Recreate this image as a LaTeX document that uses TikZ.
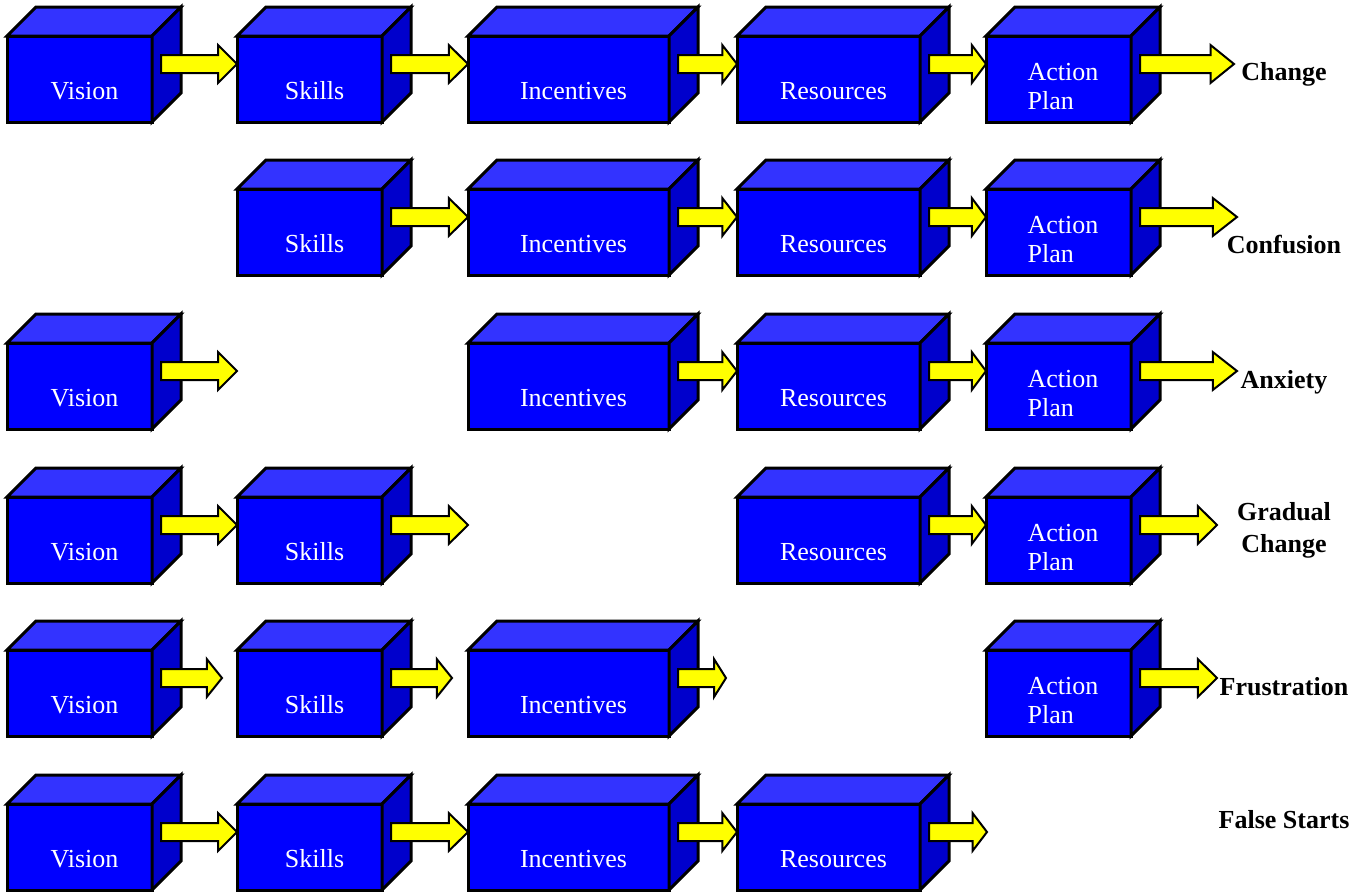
\documentclass[tikz,border=0pt]{standalone}
\usepackage{fontspec}
\setmainfont{Liberation Serif}
\usetikzlibrary{calc}
\definecolor{frontblue}{RGB}{0,0,255}
\definecolor{topblue}{RGB}{51,51,255}
\definecolor{sideblue}{RGB}{0,0,204}
\definecolor{arrowyellow}{RGB}{255,255,0}
\tikzset{
  front/.style={draw=black, fill=frontblue, line width=3pt, rectangle, inner sep=0pt, outer sep=0pt, minimum height=86pt},
  topf/.style={draw=black, fill=topblue, line width=3pt},
  sidef/.style={draw=black, fill=sideblue, line width=3pt},
  lbl/.style={text=white, font=\fontsize{26}{29}\selectfont, inner sep=0pt},
  outc/.style={text=black, font=\bfseries\fontsize{26}{32}\selectfont, inner sep=0pt},
  arr/.style={draw=black, fill=arrowyellow, line width=2pt},
}
\newcommand\drawcubeshape[4]{%
  \pgfmathsetmacro\cubew{#3-#2}%
  \node[front, minimum width=\cubew pt] (#1) at ({(#2+#3)/2},{#4+72}) {};
  \draw[topf] (#1.north west) -- ++(29,-29) -- ($(#1.north east)+(29,-29)$) -- (#1.north east) -- cycle;
  \draw[sidef] (#1.north east) -- ++(29,-29) -- ++(0,86) -- (#1.south east) -- cycle;
}
\newcommand\drawcube[5]{%
  \drawcubeshape{#1}{#2}{#3}{#4}%
  \node[lbl, anchor=base] (#1-t) at ($(#1.center)+(5,20)$) {#5};
}
\newcommand\drawplan[4]{%
  \drawcubeshape{#1}{#2}{#3}{#4}%
  \node[lbl, align=left] (#1-t) at ($(#1.center)+(4.5,8)$) {Action\\Plan};
}
\newcommand\barrow[2]{%
  \draw[arr] let \p1=($(#1)+(9,0)$), \p2=($(#2)+(0,-15)$) in
    (\x1,{\y2+9pt}) -- ({0.75*\x2+0.25*\x1},{\y2+9pt}) -- ({0.75*\x2+0.25*\x1},{\y2+19pt})
    -- (\x2,\y2) -- ({0.75*\x2+0.25*\x1},{\y2-19pt}) -- ({0.75*\x2+0.25*\x1},{\y2-9pt})
    -- (\x1,{\y2-9pt}) -- cycle;
}
\begin{document}
\begin{tikzpicture}[x=1pt,y=-1pt]
\useasboundingbox (0,0) rectangle (1369,892);
% Row 1
\drawcube{v1}{7}{152}{7}{Vision}
\drawcube{s1}{237}{382}{7}{Skills}
\drawcube{i1}{468}{669}{7}{Incentives}
\drawcube{r1}{737}{920}{7}{Resources}
\drawplan{a1}{986}{1131}{7}
\coordinate (o1) at (1234,{7+72});
\node[outc, anchor=base] (t1) at (1284,80) {Change};
\barrow{v1.east}{s1.west}
\barrow{s1.east}{i1.west}
\barrow{i1.east}{r1.west}
\barrow{r1.east}{a1.west}
\barrow{a1.east}{o1}
% Row 2
\drawcube{s2}{237}{382}{160}{Skills}
\drawcube{i2}{468}{669}{160}{Incentives}
\drawcube{r2}{737}{920}{160}{Resources}
\drawplan{a2}{986}{1131}{160}
\coordinate (o2) at (1237,{160+72});
\node[outc, anchor=base] (t2) at (1284,253) {Confusion};
\barrow{s2.east}{i2.west}
\barrow{i2.east}{r2.west}
\barrow{r2.east}{a2.west}
\barrow{a2.east}{o2}
% Row 3
\drawcube{v3}{7}{152}{314}{Vision}
\drawcube{i3}{468}{669}{314}{Incentives}
\drawcube{r3}{737}{920}{314}{Resources}
\drawplan{a3}{986}{1131}{314}
\coordinate (f3) at (237,{314+72});
\coordinate (o3) at (1237,{314+72});
\node[outc, anchor=base] (t3) at (1284,388) {Anxiety};
\barrow{v3.east}{f3}
\barrow{i3.east}{r3.west}
\barrow{r3.east}{a3.west}
\barrow{a3.east}{o3}
% Row 4
\drawcube{v4}{7}{152}{468}{Vision}
\drawcube{s4}{237}{382}{468}{Skills}
\drawcube{r4}{737}{920}{468}{Resources}
\drawplan{a4}{986}{1131}{468}
\coordinate (f4) at (468,{468+72});
\coordinate (o4) at (1217,{468+72});
\node[outc, align=center] (t4) at (1284,530) {Gradual\\Change};
\barrow{v4.east}{s4.west}
\barrow{s4.east}{f4}
\barrow{r4.east}{a4.west}
\barrow{a4.east}{o4}
% Row 5
\drawcube{v5}{7}{152}{621}{Vision}
\drawcube{s5}{237}{382}{621}{Skills}
\drawcube{i5}{468}{669}{621}{Incentives}
\drawplan{a5}{986}{1131}{621}
\coordinate (f5a) at (222,{621+72});
\coordinate (f5b) at (452,{621+72});
\coordinate (f5c) at (726,{621+72});
\coordinate (o5) at (1217,{621+72});
\node[outc, anchor=base] (t5) at (1284,695) {Frustration};
\barrow{v5.east}{f5a}
\barrow{s5.east}{f5b}
\barrow{i5.east}{f5c}
\barrow{a5.east}{o5}
% Row 6
\drawcube{v6}{7}{152}{775}{Vision}
\drawcube{s6}{237}{382}{775}{Skills}
\drawcube{i6}{468}{669}{775}{Incentives}
\drawcube{r6}{737}{920}{775}{Resources}
\coordinate (f6) at (987,{775+72});
\node[outc, anchor=base] (t6) at (1284,828) {False Starts};
\barrow{v6.east}{s6.west}
\barrow{s6.east}{i6.west}
\barrow{i6.east}{r6.west}
\barrow{r6.east}{f6}
\end{tikzpicture}
\end{document}
